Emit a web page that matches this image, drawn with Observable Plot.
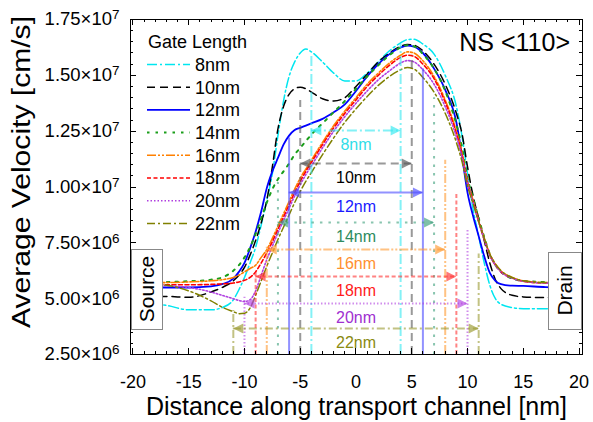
<!DOCTYPE html>
<html><head><meta charset="utf-8">
<script src="https://cdn.jsdelivr.net/npm/d3@7"></script>
<script src="https://cdn.jsdelivr.net/npm/@observablehq/plot@0.6"></script>
<style>html,body{margin:0;padding:0;background:#fff;}</style>
</head><body><div id="chart"></div>
<script>
// ---------------- data ----------------
const gateLabels = ["8nm","10nm","12nm","14nm","16nm","18nm","20nm","22nm"];
const gateLengths = [8,10,12,14,16,18,20,22]; // nm
const positions = [-20,-17,-15,-13,-12,-11,
  -10.5,-10,-9.5,-9,-8.5,-8,-7.5,-7,-6.5,-6,-5.5,-5,-4.5,-4,
  -3,-2,-1,0,1,2,3,4,
  4.6,5.2,6,7,8,9,
  9.5,10,10.5,11,11.5,12,12.5,13,
  14,15,17,20];
// average velocity, units of 1e6 cm/s
const vel8 = [4.85,4.7,4.5,4.5,4.6,4.95,
  5.4,5.95,6.6,7.3,8.3,9.4,10.6,12.3,13.85,14.95,15.6,16.0,16.18,16.05,
  15.6,15.1,14.75,14.75,15.1,15.6,16.1,16.45,
  16.6,16.62,16.4,15.95,15.0,13.6,
  12.3,10.6,9.0,7.8,6.6,5.6,5.0,4.75,
  4.6,4.55,4.55,4.55];
const vel10 = [5.1,5.1,5.06,5.3,5.5,5.8,
  6.05,6.4,6.95,7.6,8.4,9.4,10.9,12.6,13.6,14.15,14.4,14.47,14.4,14.25,
  13.95,13.85,14.0,14.5,15.05,15.6,16.0,16.3,
  16.38,16.35,16.1,15.5,14.6,13.3,
  12.4,10.9,9.6,8.6,7.6,6.6,5.85,5.45,
  5.15,5.08,5.05,5.05];
const vel12 = [5.5,5.5,5.5,5.55,5.65,5.9,
  6.2,6.6,7.25,8.0,8.9,9.95,10.7,11.3,11.9,12.3,12.55,12.65,12.75,12.85,
  13.05,13.35,13.7,14.3,14.95,15.5,15.95,16.25,
  16.33,16.28,16.0,15.3,14.35,12.9,
  11.4,9.75,8.7,7.8,6.9,6.15,5.8,5.65,
  5.58,5.57,5.52,5.5];
const vel14 = [5.75,5.75,5.78,5.85,5.95,6.25,
  6.5,6.85,7.3,7.9,8.6,9.3,9.9,10.35,10.7,11.05,11.45,11.75,12.05,12.35,
  12.85,13.35,13.85,14.4,14.95,15.45,15.9,16.25,
  16.35,16.3,15.95,15.3,14.3,12.8,
  11.8,10.4,9.5,8.6,7.75,7.0,6.5,6.2,
  5.9,5.8,5.75,5.75];
const vel16 = [5.72,5.72,5.75,5.8,5.85,5.95,
  6.05,6.2,6.35,6.5,6.85,7.2,7.7,8.25,8.8,9.35,9.9,10.4,10.8,11.2,
  12.0,12.75,13.4,14.0,14.6,15.1,15.55,15.9,
  16.05,16.0,15.65,14.95,13.9,12.5,
  11.55,10.25,9.4,8.5,7.7,7.0,6.55,6.25,
  5.95,5.8,5.72,5.72];
const vel18 = [5.62,5.62,5.62,5.64,5.66,5.7,
  5.75,5.82,5.95,6.2,6.6,7.05,7.55,8.1,8.65,9.2,9.75,10.25,10.7,11.1,
  11.9,12.65,13.3,13.9,14.5,15.0,15.45,15.8,
  15.9,15.85,15.5,14.85,13.8,12.4,
  11.45,10.2,9.35,8.45,7.65,6.95,6.5,6.2,
  5.92,5.78,5.7,5.7];
const vel20 = [5.6,5.58,5.5,5.3,5.15,5.0,
  4.92,4.87,4.95,5.35,6.05,6.75,7.35,7.95,8.5,9.05,9.6,10.1,10.55,10.95,
  11.75,12.5,13.15,13.75,14.3,14.8,15.2,15.55,
  15.66,15.6,15.25,14.6,13.6,12.25,
  11.35,10.15,9.3,8.45,7.65,6.95,6.5,6.2,
  5.92,5.78,5.7,5.7];
const vel22 = [5.68,5.6,5.35,4.9,4.62,4.42,
  4.33,4.35,4.58,5.15,5.8,6.45,7.05,7.65,8.2,8.75,9.3,9.8,10.25,10.65,
  11.45,12.2,12.9,13.5,14.05,14.55,14.95,15.25,
  15.35,15.28,14.9,14.25,13.3,12.0,
  11.15,10.05,9.25,8.45,7.7,7.0,6.55,6.25,
  5.95,5.8,5.72,5.72];
const seriesValues = [vel8, vel10, vel12, vel14, vel16, vel18, vel20, vel22];
// gate-length annotation: arrow level and top of the gate-edge lines (1e6 cm/s)
const arrowLevels  = [12.53, 11.05, 9.75, 8.41, 7.2, 5.99, 4.78, 3.66];
const gateTopLeft  = [15.9, 13.87, 12.2, 10.2, 7.3, 6.26, 5.06, 4.47];
const gateTopRight = [16.4, 15.9, 15.3, 14.0, 11.2, 9.77, 8.05, 7.0];
const xTickValues = [-20,-15,-10,-5,0,5,10,15,20];
const yTickValues = [2.5e6,5e6,7.5e6,1e7,1.25e7,1.5e7,1.75e7];
const yTickMantissa = ["2.50","5.00","7.50","1.00","1.25","1.50","1.75"];
const yTickExponent = ["6","6","6","7","7","7","7"];
const unit = 1e6;

// ---------------- styles ----------------
const W = 593, H = 422, ML = 130, MR = 11, MT = 19, MB = 68;
const FONT = "'Liberation Sans', Arial, sans-serif";
const lineColors = ["#00e6f0","#000000","#0000ff","#1a9e1a","#ff8000","#ff0000","#b040e0","#808000"];
const annColors  = ["#30e8f0","#555555","#4a4aff","#3a9e7a","#ff9a30","#ff3030","#b040e0","#9a9a30"];
const labelColors= ["#30dde8","#000000","#1a1aff","#2e8b60","#ff9030","#ff1a1a","#a030d0","#8a8a10"];
const dashes = ["10,3,2,3","8,5",null,"2.5,6","9,2,2,2,2,2","4,2.5","1.5,2","8,3,2,3"];
const widths = [1.5,1.5,1.8,2,1.6,1.6,1.6,1.5];

// ---------------- table ----------------
const rows = [];
gateLabels.forEach((g, i) => positions.forEach((x, j) => rows.push({series: g, x, v: seriesValues[i][j] * unit})));

const triRight = {draw(c){ c.moveTo(0,0); c.lineTo(-10,-5); c.lineTo(-10,5); c.closePath(); }};
const triLeft  = {draw(c){ c.moveTo(0,0); c.lineTo(10,-5); c.lineTo(10,5); c.closePath(); }};

const marks = [];
gateLabels.forEach((g, i) => {
  marks.push(Plot.line(rows.filter(d => d.series === g), {
    x: "x", y: "v", stroke: lineColors[i], strokeWidth: widths[i],
    strokeDasharray: dashes[i], curve: "monotone-x"
  }));
});
const yMin = yTickValues[0];
gateLabels.forEach((g, i) => {
  const L = gateLengths[i];
  const edges = [{x: -L/2, top: gateTopLeft[i]*unit}, {x: L/2, top: gateTopRight[i]*unit}];
  const arrow = [{x1: -L/2, x2: L/2, y: arrowLevels[i]*unit}];
  marks.push(Plot.ruleX(edges, {x: "x", y1: () => yMin, y2: "top", stroke: annColors[i],
    strokeWidth: 2, strokeDasharray: dashes[i], strokeOpacity: 0.6}));
  marks.push(Plot.ruleY(arrow, {y: "y", x1: "x1", x2: "x2", stroke: annColors[i],
    strokeWidth: 2, strokeDasharray: dashes[i], strokeOpacity: 0.6}));
  marks.push(Plot.dot(arrow, {x: "x1", y: "y", symbol: triLeft, fill: annColors[i], fillOpacity: 0.65, r: 5}));
  marks.push(Plot.dot(arrow, {x: "x2", y: "y", symbol: triRight, fill: annColors[i], fillOpacity: 0.65, r: 5}));
  marks.push(Plot.text([{x: 0, y: arrowLevels[i]*unit, t: g}], {x: "x", y: "y", text: "t", dy: 14,
    fill: labelColors[i], fontSize: 16}));
});
marks.push(Plot.axisX(xTickValues, {tickSize: 0, tickPadding: 21, fontSize: 18, tickFormat: d => String(d), label: null}));
marks.push(Plot.axisY(yTickValues, {tickSize: 0, tickPadding: 11, fontSize: 18.5,
  tickFormat: d => yTickMantissa[yTickValues.indexOf(d)] + "×10|" + yTickExponent[yTickValues.indexOf(d)], label: null}));
marks.push(Plot.text(["Distance along transport channel [nm]"], {frameAnchor: "bottom", dy: 52, fontSize: 25, text: d => d, lineAnchor: "middle"}));
marks.push(Plot.frame({stroke: "#000", strokeWidth: 1}));

const plot = Plot.plot({
  width: W, height: H, marginLeft: ML, marginRight: MR, marginTop: MT, marginBottom: MB,
  style: {fontFamily: FONT, background: "#fff", color: "#000"},
  x: {domain: [-20.22, 20.31]},
  y: {domain: [yTickValues[0], yTickValues[yTickValues.length-1]]},
  marks
});
document.getElementById("chart").appendChild(plot);

// ---------------- post-processing ----------------
const svg = d3.select(plot);
svg.selectAll('g[aria-label="y-axis tick label"] text').each(function() {
  const t = d3.select(this);
  const parts = t.text().split("|");
  t.text(parts[0]);
  t.append("tspan").attr("dy", "-0.45em").attr("font-size", 13.5).text(parts[1]);
});
const xs = plot.scale("x"), ys = plot.scale("y");
const gt = svg.append("g").attr("stroke", "#000").attr("stroke-width", 1);
const fTop = MT, fBot = H - MB, fLeft = ML, fRight = W - MR;
for (let v = -20; v <= 20; v++) {
  const px = Math.round(xs.apply(v)) + 0.5, len = v % 5 === 0 ? 6 : 3;
  gt.append("line").attr("x1", px).attr("x2", px).attr("y1", fBot).attr("y2", fBot - len);
  gt.append("line").attr("x1", px).attr("x2", px).attr("y1", fTop).attr("y2", fTop + len);
}
for (let k = 5; k <= 35; k++) {
  const v = k * 5e5;
  const py = Math.round(ys.apply(v)) + 0.5, len = k % 5 === 0 ? 6 : 3;
  gt.append("line").attr("y1", py).attr("y2", py).attr("x1", fLeft).attr("x2", fLeft + len);
  gt.append("line").attr("y1", py).attr("y2", py).attr("x1", fRight).attr("x2", fRight - len);
}
svg.append("text").attr("transform", "translate(30,172) rotate(-90)")
  .attr("text-anchor", "middle").attr("font-family", FONT).attr("font-size", 25)
  .attr("textLength", 312).attr("lengthAdjust", "spacingAndGlyphs")
  .text("Average Velocity [cm/s]");
svg.append("text").attr("x", 570).attr("y", 42).attr("dy", "0.36em").attr("text-anchor", "end")
  .attr("font-family", FONT).attr("font-size", 25).text("NS <110>");
function sideBox(x0, x1, y0, y1, label) {
  svg.append("rect").attr("x", x0 + 0.5).attr("y", y0 + 0.5).attr("width", x1 - x0).attr("height", y1 - y0)
    .attr("fill", "#fff").attr("stroke", "#888").attr("stroke-width", 1);
  svg.append("text").attr("transform", `translate(${(x0 + x1) / 2 + 7},${(y0 + y1) / 2}) rotate(-90)`)
    .attr("text-anchor", "middle").attr("font-family", FONT).attr("font-size", 21).text(label);
}
sideBox(fLeft + 1, 162, 249, 329, "Source");
sideBox(548, fRight - 1, 252, 329, "Drain");
const lg = svg.append("g").attr("font-family", FONT).attr("font-size", 18).attr("text-anchor", "start");
lg.append("text").attr("x", 148).attr("y", 42).attr("dy", "0.36em").text("Gate Length");
gateLabels.forEach((g, i) => {
  const y = 64.5 + i * 22.7;
  lg.append("line").attr("x1", 147).attr("x2", 190).attr("y1", y).attr("y2", y)
    .attr("stroke", lineColors[i]).attr("stroke-width", widths[i])
    .attr("stroke-dasharray", dashes[i]);
  lg.append("text").attr("x", 195).attr("y", y).attr("dy", "0.36em").text(g);
});
</script></body></html>
